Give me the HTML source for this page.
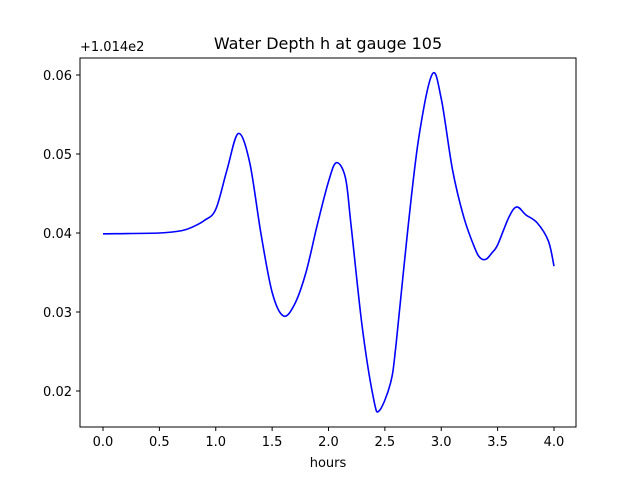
<!DOCTYPE html>
<html><head><meta charset="utf-8"><style>
body{margin:0;background:#fff;font-family:"Liberation Sans","DejaVu Sans",sans-serif}
svg text{font-family:"DejaVu Sans","Liberation Sans",sans-serif;font-size:13px;fill:#000}
</style></head><body>
<svg id="chart" width="640" height="480">
<rect x="0" y="0" width="640" height="480" fill="#fff"/>
<text x="328" y="49" text-anchor="middle" style="font-size:16px">Water Depth h at gauge 105</text>
<text x="80" y="51">+1.014e2</text>
<text x="328" y="467" text-anchor="middle">hours</text>
<g id="ticks"></g>
<path id="line" fill="none" stroke="#0000ff" stroke-width="1.6"/>
<rect x="80" y="58" width="496" height="369" fill="none" stroke="#000" stroke-width="1"/>
</svg>
<script>
const hours=[0,0.5,0.7,0.8,0.9,1.0,1.1,1.2,1.3,1.4,1.5,1.6,1.7,1.8,1.9,2.0,2.07,2.15,2.2,2.3,2.4,2.45,2.55,2.6,2.7,2.8,2.92,3.0,3.1,3.2,3.3,3.35,3.4,3.45,3.5,3.6,3.67,3.75,3.85,3.95,4.0];
const depth=[0.0399,0.0400,0.0403,0.0408,0.0416,0.0430,0.0480,0.0526,0.0490,0.0400,0.0325,0.0295,0.0310,0.0350,0.0410,0.0465,0.0489,0.0470,0.0410,0.0280,0.0190,0.0175,0.0210,0.0260,0.0400,0.0520,0.0601,0.0570,0.0480,0.0420,0.0380,0.0368,0.0367,0.0375,0.0385,0.0420,0.0433,0.0423,0.0413,0.0390,0.0358];
const xTicks=[0,0.5,1.0,1.5,2.0,2.5,3.0,3.5,4.0];
const yTicks=[0.02,0.03,0.04,0.05,0.06];
const X=t=>103+t*112.75;
const Y=v=>75+(0.06-v)*7900;
const NS="http://www.w3.org/2000/svg";
const g=document.getElementById('ticks');
function mk(tag,attrs){const e=document.createElementNS(NS,tag);for(const k in attrs)e.setAttribute(k,attrs[k]);g.appendChild(e);return e;}
xTicks.forEach(t=>{
 const l=mk('line',{x1:X(t),x2:X(t),y1:427,y2:431,stroke:'#000'});
 
 
 const s=mk('text',{x:X(t),y:446,'text-anchor':'middle'});s.textContent=t.toFixed(1);
 
 
});
yTicks.forEach(v=>{
 const l=mk('line',{x1:76,x2:80,y1:Y(v),y2:Y(v),stroke:'#000'});
 
 
 const s=mk('text',{x:72,y:Y(v)+5,'text-anchor':'end'});s.textContent=v.toFixed(2);
 
 
});
const P=hours.map((t,i)=>[X(t),Y(depth[i])]);
let d='M'+P[0][0]+','+P[0][1];
for(let i=0;i<P.length-1;i++){
 const p0=P[Math.max(0,i-1)],p1=P[i],p2=P[i+1],p3=P[Math.min(P.length-1,i+2)];
 const c1=[p1[0]+(p2[0]-p0[0])/6,p1[1]+(p2[1]-p0[1])/6];
 const c2=[p2[0]-(p3[0]-p1[0])/6,p2[1]-(p3[1]-p1[1])/6];
 d+=`C${c1[0]},${c1[1]} ${c2[0]},${c2[1]} ${p2[0]},${p2[1]}`;
}
document.getElementById('line').setAttribute('d',d);
</script>
</body></html>
